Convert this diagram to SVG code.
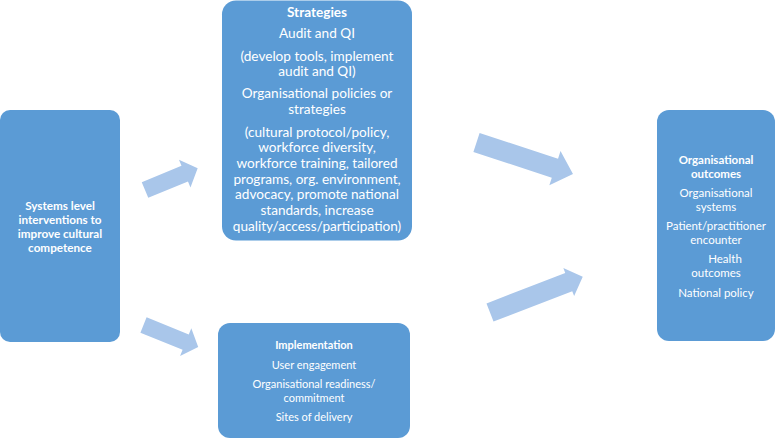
<svg xmlns="http://www.w3.org/2000/svg" width="776" height="440" viewBox="0 0 776 440">
<style>
.box{fill:#5b9bd5}
.arr{fill:#a9c6ea}
text{font-family:Lato,"Liberation Sans",sans-serif;fill:#ffffff;text-anchor:middle}
.s{font-size:13.6px}
.m{font-size:11px}
.r{font-size:11.5px}
.l{font-size:11.7px}
.b{font-weight:bold}
</style>
<rect width="776" height="440" fill="#ffffff"/>
<g id="connectors">
<polygon class="arr" points="0,-8.5 43,-8.5 43,-15 57,0 43,15 43,8.5 0,8.5" transform="translate(145,190) rotate(-22.5)"/>
<polygon class="arr" points="0,-8.25 45.5,-8.25 45.5,-15 59,0 45.5,15 45.5,8.25 0,8.25" transform="translate(143.5,325) rotate(22)"/>
<polygon class="arr" points="0,-10 82.5,-10 82.5,-18 101.5,0 82.5,18 82.5,10 0,10" transform="translate(476.5,142.5) rotate(18.1)"/>
<polygon class="arr" points="0,-9.75 84.4,-9.75 84.4,-15 99.4,0 84.4,15 84.4,9.75 0,9.75" transform="translate(490,312.5) rotate(-21.1)"/>
</g>
<g id="systems">
<rect class="box" x="0" y="110" width="120" height="232" rx="10"/>
<text class="l b" x="60" y="210">Systems level</text>
<text class="l b" x="60" y="224">interventions to</text>
<text class="l b" x="60" y="238">improve cultural</text>
<text class="l b" x="60" y="252">competence</text>
</g>
<g id="strategies">
<rect class="box" x="222" y="0.5" width="190" height="240" rx="14"/>
<text class="s b" x="317" y="17">Strategies</text>
<text class="s" x="317" y="38">Audit and QI</text>
<text class="s" x="317" y="61">(develop tools, implement</text>
<text class="s" x="317" y="76">audit and QI)</text>
<text class="s" x="317" y="98">Organisational policies or</text>
<text class="s" x="317" y="114">strategies</text>
<text class="s" x="317" y="137">(cultural protocol/policy,</text>
<text class="s" x="317" y="152">workforce diversity,</text>
<text class="s" x="317" y="168">workforce training, tailored</text>
<text class="s" x="317" y="184">programs, org. environment,</text>
<text class="s" x="317" y="199">advocacy, promote national</text>
<text class="s" x="317" y="215">standards, increase</text>
<text class="s" x="317" y="231">quality/access/participation)</text>
</g>
<g id="implementation">
<rect class="box" x="218" y="323" width="192" height="115" rx="12"/>
<text class="m b" x="314" y="349">Implementation</text>
<text class="m" x="314" y="369">User engagement</text>
<text class="m" x="314" y="388">Organisational readiness/</text>
<text class="m" x="314" y="402">commitment</text>
<text class="m" x="314" y="421">Sites of delivery</text>
</g>
<g id="outcomes">
<rect class="box" x="657" y="110" width="118" height="231" rx="12"/>
<text class="r b" x="716" y="164">Organisational</text>
<text class="r b" x="716" y="178">outcomes</text>
<text class="r" x="716" y="197">Organisational</text>
<text class="r" x="716" y="211">systems</text>
<text class="r" x="716" y="230">Patient/practitioner</text>
<text class="r" x="716" y="244">encounter</text>
<text class="r" x="725" y="263">Health</text>
<text class="r" x="716" y="277">outcomes</text>
<text class="r" x="716" y="297">National policy</text>
</g>
</svg>
